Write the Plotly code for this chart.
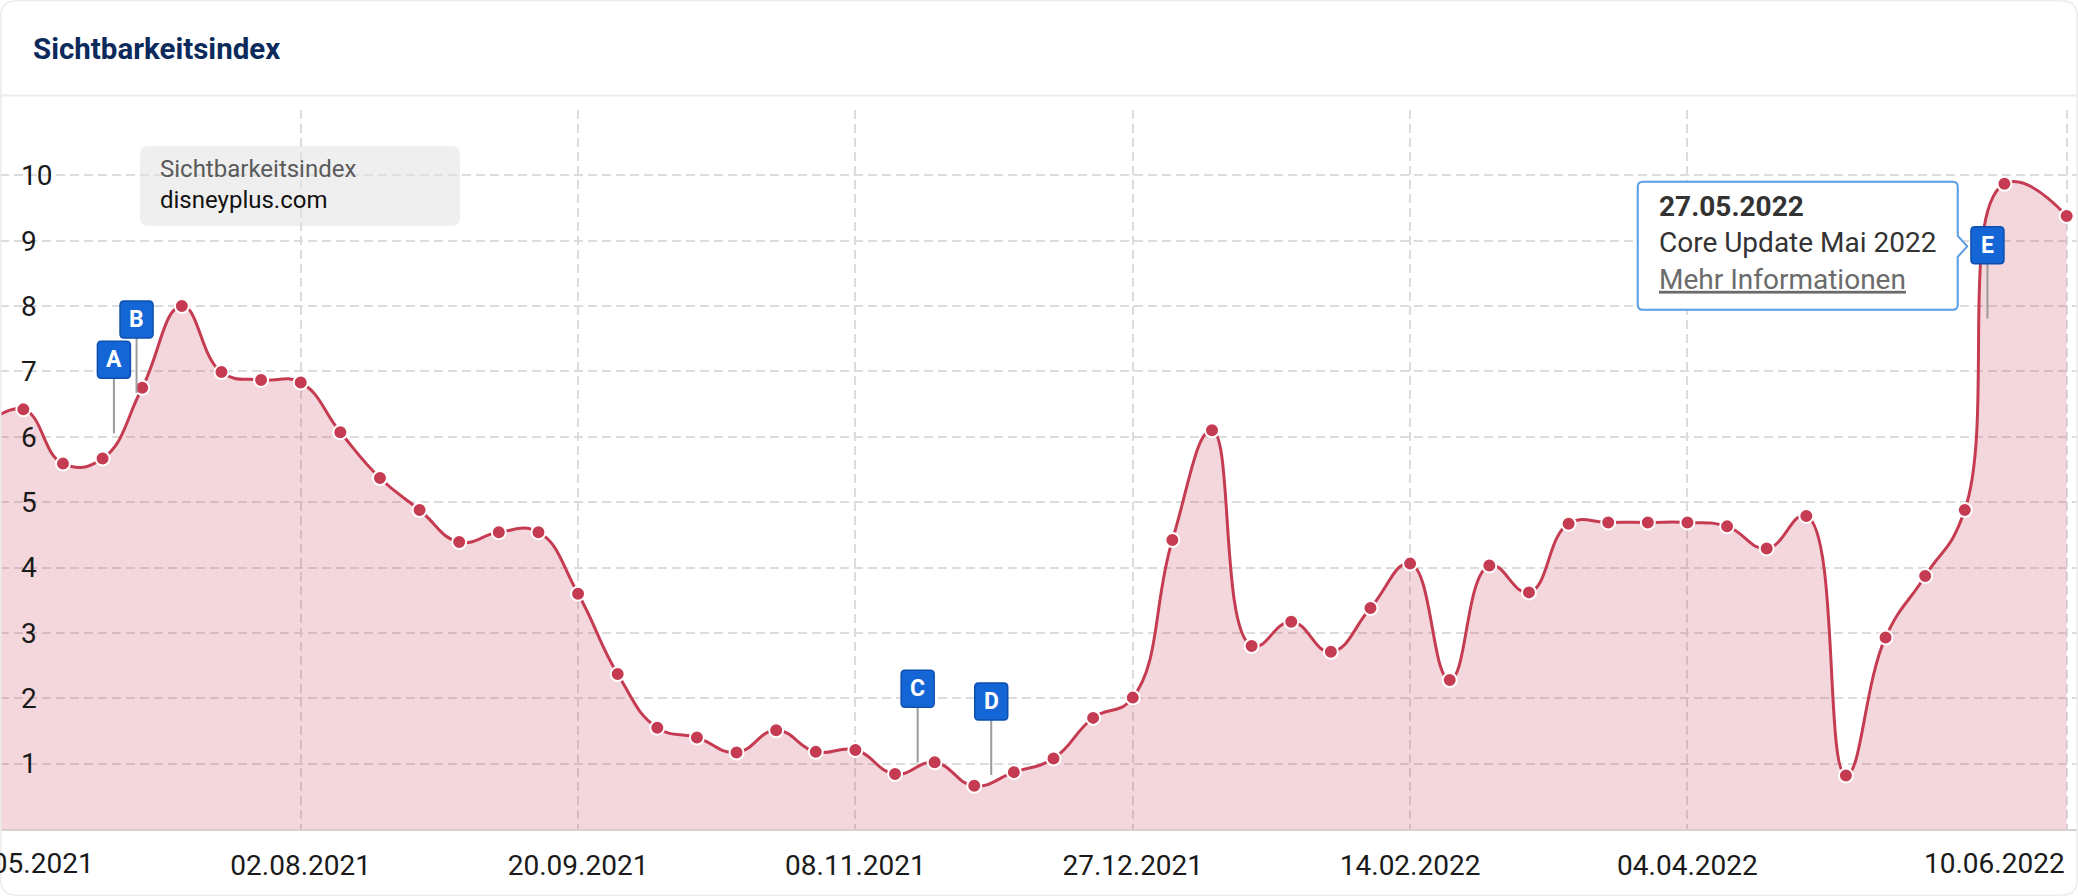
import plotly.graph_objects as go
import numpy as np
from datetime import datetime

# ---------------- data ----------------
dates = [
    "2021-06-07", "2021-06-14", "2021-06-21", "2021-06-28", "2021-07-05", "2021-07-12",
    "2021-07-19", "2021-07-26", "2021-08-02", "2021-08-09", "2021-08-16", "2021-08-23",
    "2021-08-30", "2021-09-06", "2021-09-13", "2021-09-20", "2021-09-27", "2021-10-04",
    "2021-10-11", "2021-10-18", "2021-10-25", "2021-11-01", "2021-11-08", "2021-11-15",
    "2021-11-22", "2021-11-29", "2021-12-06", "2021-12-13", "2021-12-20", "2021-12-27",
    "2022-01-03", "2022-01-10", "2022-01-17", "2022-01-24", "2022-01-31", "2022-02-07",
    "2022-02-14", "2022-02-21", "2022-02-28", "2022-03-07", "2022-03-14", "2022-03-21",
    "2022-03-28", "2022-04-04", "2022-04-11", "2022-04-18", "2022-04-25", "2022-05-02",
    "2022-05-09", "2022-05-16", "2022-05-23", "2022-05-30", "2022-06-10",
]
values = [
    6.15, 6.42, 5.59, 5.67, 6.75, 8.00,
    6.99, 6.87, 6.83, 6.07, 5.37, 4.88,
    4.39, 4.54, 4.54, 3.60, 2.37, 1.55,
    1.40, 1.17, 1.51, 1.18, 1.21, 0.84,
    1.02, 0.66, 0.87, 1.08, 1.70, 2.01,
    4.42, 6.10, 2.80, 3.17, 2.71, 3.38,
    4.06, 2.28, 4.03, 3.62, 4.67, 4.69,
    4.69, 4.69, 4.63, 4.29, 4.79, 0.82,
    2.93, 3.87, 4.88, 9.87, 9.38,
]

tick_dates = ["2021-08-02", "2021-09-20", "2021-11-08", "2021-12-27",
              "2022-02-14", "2022-04-04", "2022-06-10"]
tick_labels = ["02.08.2021", "20.09.2021", "08.11.2021", "27.12.2021",
               "14.02.2022", "04.04.2022", "10.06.2022"]
first_label = "31.05.2021"

y_ticks = [1, 2, 3, 4, 5, 6, 7, 8, 9, 10]

event_dates = ["2021-06-30", "2021-07-04", "2021-11-19", "2021-12-02", "2022-05-27"]
event_letters = ["A", "B", "C", "D", "E"]

title_text = "Sichtbarkeitsindex"
legend_metric = "Sichtbarkeitsindex"
legend_domain = "disneyplus.com"
tooltip_date = "27.05.2022"
tooltip_title = "Core Update Mai 2022"
tooltip_link = "Mehr Informationen"

# ---------------- layout constants ----------------
W, H = 2078, 896
PLOT_TOP, PLOT_BOTTOM = 110, 829
PLOT_H = PLOT_BOTTOM - PLOT_TOP
Y_MAX = 11.0
X_RANGE = ["2021-06-09 21:00", "2022-06-12 00:00"]
SMOOTH = 1.3

LINE_COLOR = "#c53c52"
FILL_COLOR = "rgba(200,55,80,0.2)"
GRID_COLOR = "#dcdcdc"
FLAG_FILL = "#1466d6"
FLAG_LINE = "#0c4fae"
FONT = "Roboto"
LABEL_COLOR = "#1a1a1a"


def ts(d):
    return datetime.fromisoformat(d).timestamp()


def PX(px):
    return px / W


def PY(py):
    return (PLOT_BOTTOM - py) / PLOT_H


def series_value(target):
    # flags sit on the series, interpolated between neighbouring points
    return float(np.interp(ts(target), [ts(d) for d in dates], values))


def rrect(x0, y0, x1, y1, rx, ry=None):
    ry = rx if ry is None else ry
    return (f"M{x0 + rx},{y0} L{x1 - rx},{y0} Q{x1},{y0} {x1},{y0 + ry} "
            f"L{x1},{y1 - ry} Q{x1},{y1} {x1 - rx},{y1} L{x0 + rx},{y1} "
            f"Q{x0},{y1} {x0},{y1 - ry} L{x0},{y0 + ry} Q{x0},{y0} {x0 + rx},{y0} Z")


# ---------------- figure ----------------
fig = go.Figure()
fig.add_trace(go.Scatter(
    x=dates, y=values, mode="lines+markers",
    line=dict(color=LINE_COLOR, width=3, shape="spline", smoothing=SMOOTH, simplify=False),
    marker=dict(size=14, color=LINE_COLOR, line=dict(color="white", width=2)),
    fill="tozeroy", fillcolor=FILL_COLOR, hoverinfo="skip", showlegend=False,
))

shapes = []
annotations = []

# card border and header separator
kx, ky = 1 / W, 1 / PLOT_H
shapes.append(dict(type="path", xref="paper", yref="paper", layer="above",
                   path=rrect(PX(0.75), PY(H - 0.75), PX(W - 0.75), PY(0.75), 16 * kx, 16 * ky),
                   line=dict(color="#ececec", width=1.5), fillcolor="rgba(0,0,0,0)"))
shapes.append(dict(type="line", xref="paper", yref="paper", x0=0, x1=1,
                   y0=PY(95.5), y1=PY(95.5), line=dict(color="#ececec", width=2)))

# title
annotations.append(dict(xref="paper", yref="paper", x=PX(31), y=PY(49), xanchor="left",
                        yanchor="middle", showarrow=False,
                        text=f"<b>{title_text}</b>",
                        font=dict(family=FONT, size=29.5, color="#0c2a5b")))

# legend box
shapes.append(dict(type="path", xref="paper", yref="paper", layer="above",
                   path=rrect(PX(140), PY(226), PX(460), PY(146), 9 * kx, 9 * ky),
                   line=dict(width=0), fillcolor="rgba(225,225,225,0.55)"))
annotations.append(dict(xref="paper", yref="paper", x=PX(158), y=PY(153), xanchor="left",
                        yanchor="top", align="left", showarrow=False,
                        text=(f"<span style='color:#5a5a5a'>{legend_metric}</span><br>"
                              f"<span style='color:#111111'>{legend_domain}</span>"),
                        font=dict(family=FONT, size=24, color="#111111")))

# flags
STEM_GAP = 5
STEM_TOP = 60
BOX_H = 37
BOX_HW = 16.5
flag_anchor = {}
for d, letter in zip(event_dates, event_letters):
    v = series_value(d)
    flag_anchor[letter] = (d, v)
    shapes.append(dict(type="line", xref="x", yref="y", xsizemode="pixel", ysizemode="pixel",
                       xanchor=d, yanchor=v, x0=0, x1=0, y0=STEM_GAP, y1=STEM_TOP,
                       line=dict(color="#9b9b9b", width=2)))
    shapes.append(dict(type="path", xref="x", yref="y", xsizemode="pixel", ysizemode="pixel",
                       xanchor=d, yanchor=v,
                       path=rrect(-BOX_HW, STEM_TOP, BOX_HW, STEM_TOP + BOX_H, 4),
                       fillcolor=FLAG_FILL, line=dict(color=FLAG_LINE, width=1.5)))
    annotations.append(dict(xref="x", yref="y", x=d, y=v, yshift=STEM_TOP + BOX_H / 2,
                            showarrow=False, text=f"<b>{letter}</b>",
                            font=dict(family=FONT, size=23, color="white")))

# tooltip attached to flag E
ed, ev = flag_anchor["E"]
tb_l, tb_r, tb_b, tb_t = -349.7, -29.7, 13.8, 141.8
tip = (-20.2, 77.3)
r = 5
tt_path = (f"M{tb_l + r},{tb_b} L{tb_r - r},{tb_b} Q{tb_r},{tb_b} {tb_r},{tb_b + r} "
           f"L{tb_r},{tip[1] - 10.5} L{tip[0]},{tip[1]} L{tb_r},{tip[1] + 10.5} "
           f"L{tb_r},{tb_t - r} Q{tb_r},{tb_t} {tb_r - r},{tb_t} L{tb_l + r},{tb_t} "
           f"Q{tb_l},{tb_t} {tb_l},{tb_t - r} L{tb_l},{tb_b + r} Q{tb_l},{tb_b} {tb_l + r},{tb_b} Z")
shapes.append(dict(type="path", xref="x", yref="y", xsizemode="pixel", ysizemode="pixel",
                   xanchor=ed, yanchor=ev, path=tt_path, fillcolor="white",
                   line=dict(color="#5b9be4", width=2)))
annotations.append(dict(xref="x", yref="y", x=ed, y=ev, xshift=-330, yshift=136,
                        xanchor="left", yanchor="top", align="left", showarrow=False,
                        text=(f"<b>{tooltip_date}</b><br>{tooltip_title}<br>"
                              f"<span style='color:#6b6b6b;text-decoration:underline'>{tooltip_link}</span>"),
                        font=dict(family=FONT, size=28, color="#333333")))

# x labels that were justified at the chart edges
annotations.append(dict(xref="x", yref="paper", x=tick_dates[-1], y=PY(864), xanchor="right",
                        yanchor="middle", showarrow=False, text=tick_labels[-1],
                        font=dict(family=FONT, size=28, color=LABEL_COLOR)))
annotations.append(dict(xref="paper", yref="paper", x=PX(96), y=PY(864), xanchor="right",
                        yanchor="middle", showarrow=False, text=first_label,
                        font=dict(family=FONT, size=28, color=LABEL_COLOR)))

fig.update_layout(
    width=W, height=H,
    margin=dict(l=0, r=0, t=PLOT_TOP, b=H - PLOT_BOTTOM, pad=0),
    paper_bgcolor="white", plot_bgcolor="white",
    shapes=shapes, annotations=annotations,
    hovermode=False,
    xaxis=dict(
        type="date", range=X_RANGE,
        tickmode="array", tickvals=tick_dates,
        ticktext=tick_labels[:-1] + [""],
        showgrid=True, gridcolor=GRID_COLOR, gridwidth=2, griddash="9px,5px",
        showline=True, linecolor="#d6d0d2", linewidth=2,
        ticks="", tickfont=dict(family=FONT, size=28, color=LABEL_COLOR),
        ticklabelstandoff=10,
        zeroline=False, fixedrange=True,
    ),
    yaxis=dict(
        range=[0, Y_MAX], tickmode="array", tickvals=y_ticks,
        ticktext=[str(t) for t in y_ticks],
        showgrid=True, gridcolor=GRID_COLOR, gridwidth=2, griddash="9px,5px",
        ticks="", ticklabelposition="inside",
        tickfont=dict(family=FONT, size=28, color=LABEL_COLOR),
        ticklabelstandoff=18,
        zeroline=False, showline=False, fixedrange=True,
    ),
)

fig.write_html("out.html", config={"displayModeBar": False},
               post_script="document.body.style.margin='0';document.body.style.overflow='hidden';")
